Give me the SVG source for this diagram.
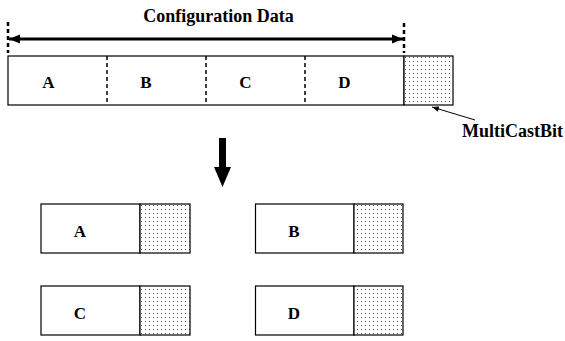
<svg xmlns="http://www.w3.org/2000/svg" width="565" height="341" viewBox="0 0 565 341">
<style>
text{font-family:"Liberation Serif","Times New Roman",serif;font-weight:bold;font-size:17px;fill:#000}
.lg{font-size:18px}
.box{fill:#fff;stroke:#000;stroke-width:1.2}
.bit{fill:url(#dots);stroke:#000;stroke-width:1.2}
.div{stroke:#000;stroke-width:1.5;stroke-dasharray:4,3}
</style>
<defs>
<pattern id="dots" width="4" height="4" patternUnits="userSpaceOnUse">
<rect width="4" height="4" fill="#fff"/>
<rect x="1" y="1" width="1" height="1" fill="#555"/>
</pattern>
<marker id="ah" viewBox="0 0 10 10" refX="10" refY="5" markerWidth="11" markerHeight="11" markerUnits="userSpaceOnUse" orient="auto-start-reverse">
<path d="M0,1 L10,5 L0,9 z" fill="#000"/>
</marker>
<marker id="sh" viewBox="0 0 10 10" refX="10" refY="5" markerWidth="7" markerHeight="7" markerUnits="userSpaceOnUse" orient="auto">
<path d="M0,1 L10,5 L0,9 z" fill="#000"/>
</marker>
</defs>
<g id="title"><text class="lg" x="218.5" y="22" text-anchor="middle">Configuration Data</text></g>
<g id="config">
<rect class="box" x="8" y="56" width="396" height="49"/>
<rect class="bit" x="404" y="56" width="49" height="49"/>
<line class="div" x1="107" y1="56" x2="107" y2="105"/>
<line class="div" x1="206" y1="56" x2="206" y2="105"/>
<line class="div" x1="305" y1="56" x2="305" y2="105"/>
<text x="48.5" y="88" text-anchor="middle">A</text>
<text x="146" y="88" text-anchor="middle">B</text>
<text x="245.5" y="88" text-anchor="middle">C</text>
<text x="344.5" y="88" text-anchor="middle">D</text>
</g>
<g id="multicast"><text class="lg" x="462" y="137">MultiCastBit</text></g>
<g id="boxA"><rect class="box" x="41" y="204" width="99" height="49"/><rect class="bit" x="140" y="204" width="50" height="49"/><text x="80" y="237" text-anchor="middle">A</text></g>
<g id="boxB"><rect class="box" x="255.5" y="204" width="98.5" height="49"/><rect class="bit" x="354" y="204" width="49" height="49"/><text x="294" y="237" text-anchor="middle">B</text></g>
<g id="boxC"><rect class="box" x="41" y="286" width="99" height="49"/><rect class="bit" x="140" y="286" width="50" height="49"/><text x="80" y="319" text-anchor="middle">C</text></g>
<g id="boxD"><rect class="box" x="255.5" y="286" width="98.5" height="49"/><rect class="bit" x="354" y="286" width="49" height="49"/><text x="294" y="319" text-anchor="middle">D</text></g>
<g id="connectors">
<line x1="8" y1="22" x2="8" y2="53" stroke="#000" stroke-width="2.5" stroke-dasharray="4,3"/>
<line x1="404" y1="23" x2="404" y2="53" stroke="#000" stroke-width="2.5" stroke-dasharray="4,3"/>
<line x1="9" y1="39" x2="403" y2="39" stroke="#000" stroke-width="3" marker-start="url(#ah)" marker-end="url(#ah)"/>
<line x1="475" y1="120" x2="432" y2="107" stroke="#000" stroke-width="1" marker-end="url(#sh)"/>
<rect x="219" y="138" width="7" height="30" fill="#000"/>
<path d="M214,167 L231,167 L222.5,187 z" fill="#000"/>
</g>
</svg>
